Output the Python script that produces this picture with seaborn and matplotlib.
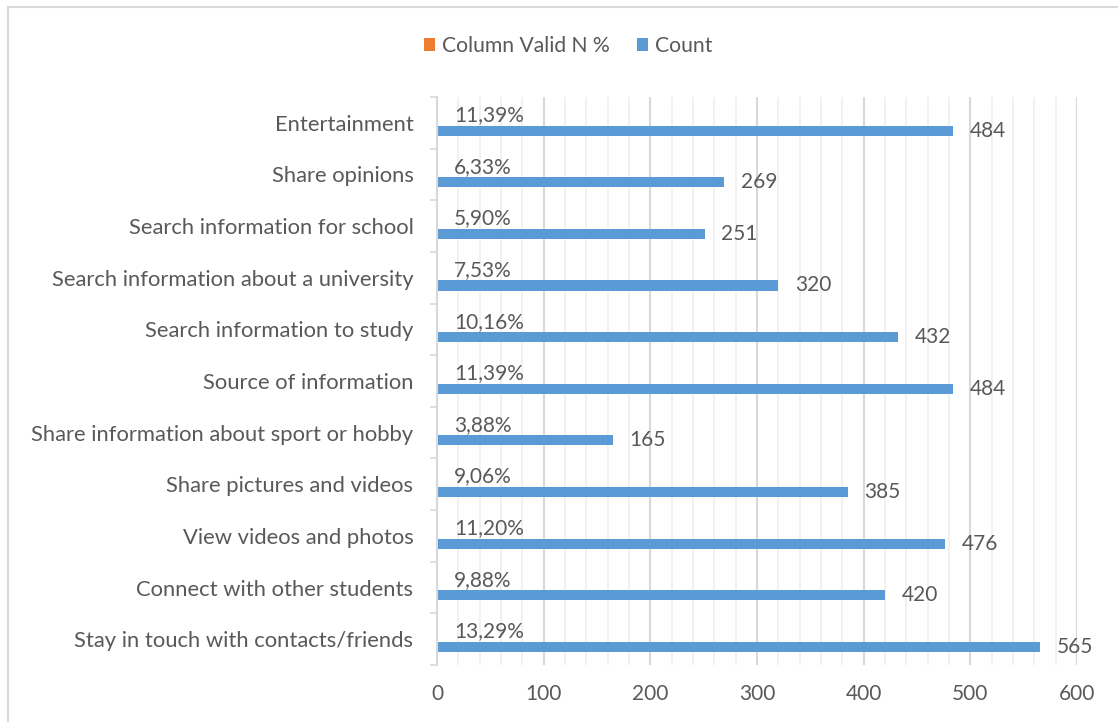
import matplotlib
matplotlib.use("Agg")
import matplotlib.pyplot as plt
from matplotlib.patches import Rectangle
from matplotlib.ticker import MultipleLocator, FixedLocator
import pandas as pd
import seaborn as sns

categories = [
    "Entertainment",
    "Share opinions",
    "Search information for school",
    "Search information about a university",
    "Search information to study",
    "Source of information",
    "Share information about sport or hobby",
    "Share pictures and videos",
    "View videos and photos",
    "Connect with other students",
    "Stay in touch with contacts/friends",
]
counts = [484, 269, 251, 320, 432, 484, 165, 385, 476, 420, 565]
valid_pct = [11.39, 6.33, 5.90, 7.53, 10.16, 11.39, 3.88, 9.06, 11.20, 9.88, 13.29]
series_names = ["Column Valid N %", "Count"]
x_ticks = [0, 100, 200, 300, 400, 500, 600]

BLUE = "#5B9BD5"
ORANGE = "#ED7D31"
TEXT = "#595959"
GRID = "#D9D9D9"
MINOR_GRID = "#F0F0F0"

sns.set_theme(style="white")
plt.rcParams["font.family"] = ["Lato", "DejaVu Sans"]

df = pd.DataFrame({
    "category": categories * 2,
    "value": [p / 100 for p in valid_pct] + counts,
    "series": [series_names[0]] * len(categories) + [series_names[1]] * len(categories),
})

fig = plt.figure(figsize=(11.18, 7.22), dpi=100)
ax = fig.add_axes([437 / 1118, 57 / 722, 640 / 1118, 568 / 722])

sns.barplot(
    data=df, y="category", x="value", hue="series", orient="h",
    palette=[ORANGE, BLUE], width=0.6, gap=0.35, ax=ax,
    order=categories, hue_order=series_names, errorbar=None,
    saturation=1, linewidth=0,
)

ax.set_xlim(0, 600)
ax.set_ylim(len(categories) - 0.5, -0.5)
ax.xaxis.set_major_locator(FixedLocator(x_ticks))
ax.xaxis.set_minor_locator(MultipleLocator(20))
ax.grid(axis="x", which="major", color=GRID, linewidth=1.5, zorder=0)
ax.grid(axis="x", which="minor", color=MINOR_GRID, linewidth=1.3, zorder=0)
ax.set_axisbelow(True)

# category boundary ticks on the left axis
ax.yaxis.set_minor_locator(FixedLocator([i - 0.5 for i in range(len(categories) + 1)]))
ax.tick_params(axis="y", which="major", length=0, pad=17, labelsize=15.8, labelcolor=TEXT)
ax.tick_params(axis="y", which="minor", length=5, width=1.2, color=GRID, left=True)
ax.tick_params(axis="x", which="both", length=0, pad=14, labelsize=15, labelcolor=TEXT)

for side in ["top", "right", "bottom"]:
    ax.spines[side].set_visible(False)
ax.spines["left"].set_color(GRID)
ax.spines["left"].set_linewidth(1.5)
ax.set_xlabel("")
ax.set_ylabel("")

# value labels
pct_labels = [f"{p:.2f}".replace(".", ",") + "%" for p in valid_pct]
ax.bar_label(ax.containers[0], labels=pct_labels, padding=12, fontsize=15, color=TEXT)
ax.bar_label(ax.containers[1], labels=[str(c) for c in counts], padding=12,
             fontsize=15, color=TEXT)

handles, labels = ax.get_legend_handles_labels()
ax.get_legend().remove()
fig.legend(handles, labels, loc="center", bbox_to_anchor=(0.508, 1 - 46 / 722),
           ncol=2, frameon=False, fontsize=15.2, labelcolor=TEXT,
           handlelength=0.55, handleheight=0.55, handletextpad=0.3, columnspacing=1.3)

# chart frame
fig.add_artist(Rectangle((8 / 1118, -0.1), 1.2, 1.1 - 7 / 722, transform=fig.transFigure,
                         fill=False, edgecolor=GRID, linewidth=1.5))

fig.savefig("out.png", dpi=100)
